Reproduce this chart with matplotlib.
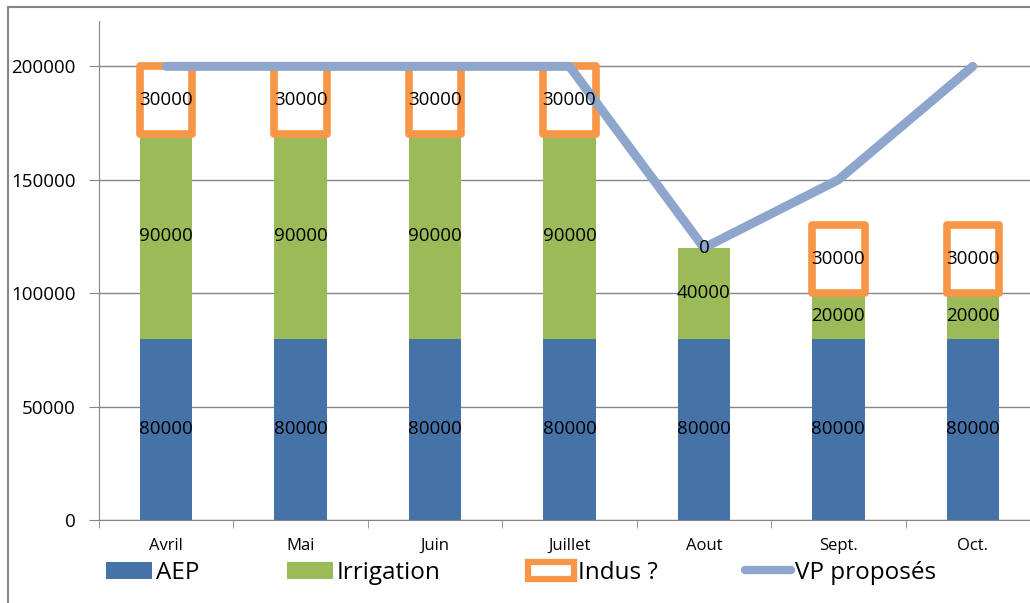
import numpy as np
import matplotlib.pyplot as plt
from matplotlib.patches import Patch
from matplotlib.lines import Line2D

plt.rcParams['font.family'] = ['Open Sans', 'DejaVu Sans']

# Volumes par mois
mois = ['Avril', 'Mai', 'Juin', 'Juillet', 'Aout', 'Sept.', 'Oct.']
aep = [80000, 80000, 80000, 80000, 80000, 80000, 80000]
irrigation = [90000, 90000, 90000, 90000, 40000, 20000, 20000]
indus = [30000, 30000, 30000, 30000, 0, 30000, 30000]
vp_proposes = [200000, 200000, 200000, 200000, 120000, 150000, 200000]

c_aep = '#4572A7'
c_irr = '#9BBB59'
c_ind = '#F79646'
c_vp = '#8EA5CC'
c_gris = '#868686'

fig = plt.figure(figsize=(10.30, 6.03), dpi=100)
ax = fig.add_axes([0.0961, 0.1376, 0.9136, 0.8276])

x = np.arange(len(mois))
w = 0.39
bas_irr = np.array(aep)
bas_ind = bas_irr + np.array(irrigation)
ind = np.array(indus)
pos = ind > 0

ax.bar(x, aep, w, color=c_aep, zorder=2)
ax.bar(x, irrigation, w, bottom=bas_irr, color=c_irr, zorder=2)
# les segments nuls ne sont pas dessinés
ax.bar(x[pos], ind[pos], w, bottom=bas_ind[pos], facecolor='white', edgecolor=c_ind,
       linewidth=5.5, joinstyle='round', zorder=3)
ax.plot(x, vp_proposes, color=c_vp, linewidth=6.5, solid_capstyle='round',
        solid_joinstyle='round', zorder=4)

# Etiquettes des valeurs au centre des segments
for i in range(len(mois)):
    ax.text(x[i], aep[i] / 2, str(aep[i]), ha='center', va='center',
            fontsize=13.5, zorder=5)
    ax.text(x[i], bas_irr[i] + irrigation[i] / 2, str(irrigation[i]),
            ha='center', va='center', fontsize=13.5, zorder=5)
    ax.text(x[i], bas_ind[i] + indus[i] / 2, str(indus[i]),
            ha='center', va='center', fontsize=13.5, zorder=5)

ax.set_xlim(-0.5, len(mois) - 0.5)
ax.set_ylim(0, 220000)
ax.set_yticks([0, 50000, 100000, 150000, 200000])
ax.tick_params(axis='y', labelsize=13.5, length=7, color=c_gris, pad=10)
ax.set_xticks(x)
ax.set_xticklabels(mois)
ax.set_xticks(np.arange(-0.5, len(mois)), minor=True)
ax.tick_params(axis='x', which='major', length=0, labelsize=12, pad=13)
ax.tick_params(axis='x', which='minor', length=6, color=c_gris)
ax.grid(axis='y', color=c_gris, linewidth=1, zorder=0)
ax.set_axisbelow(True)
for s in ['top', 'right']:
    ax.spines[s].set_visible(False)
for s in ['left', 'bottom']:
    ax.spines[s].set_color(c_gris)

# Cadre extérieur
fig.add_artist(Line2D([8 / 1030, 8 / 1030], [0, 1 - 7 / 603], color=c_gris, lw=1.5))
fig.add_artist(Line2D([8 / 1030, 1], [1 - 7 / 603, 1 - 7 / 603], color=c_gris, lw=1.5))

handles = [
    Patch(facecolor=c_aep, label='AEP'),
    Patch(facecolor=c_irr, label='Irrigation'),
    Patch(facecolor='white', edgecolor=c_ind, linewidth=4.5, label='Indus ?'),
    Line2D([], [], color=c_vp, linewidth=6, solid_capstyle='round', label='VP proposés'),
]
fig.legend(handles=handles, loc='center left', bbox_to_anchor=(106 / 1030, 1 - 573 / 603),
           ncol=4, frameon=False, fontsize=17.5, handlelength=1.9, handletextpad=0.15,
           columnspacing=3.6, borderpad=0, borderaxespad=0)

fig.savefig('out.png', dpi=100)
